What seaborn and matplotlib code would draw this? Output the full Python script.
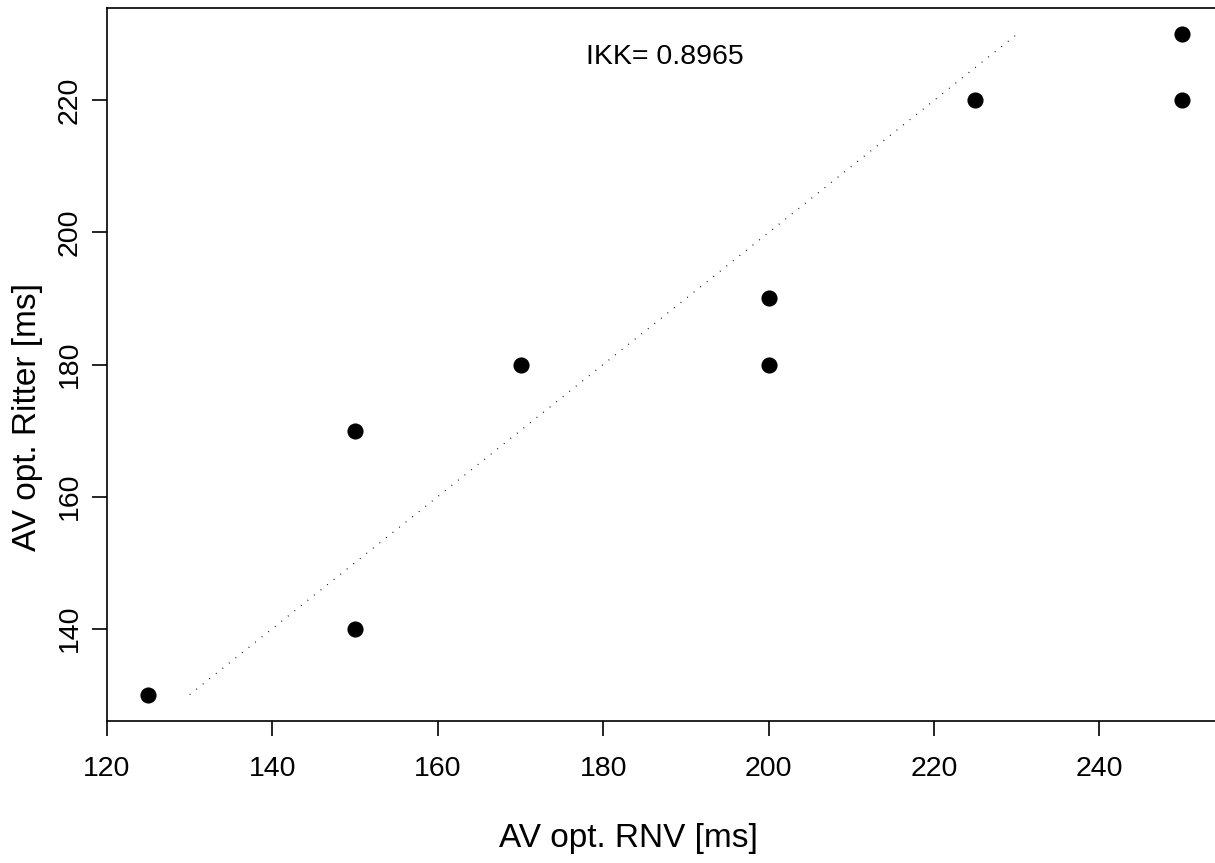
import matplotlib
matplotlib.use("Agg")
import matplotlib.pyplot as plt
import seaborn as sns
import pandas as pd

rnv = [125, 150, 150, 170, 200, 200, 225, 250, 250]
ritter = [130, 140, 170, 180, 190, 180, 220, 230, 220]
ident_line = [130, 230]
xticks = [120, 140, 160, 180, 200, 220, 240]
yticks = [140, 160, 180, 200, 220]
annot = "IKK= 0.8965"

sns.set_style("white")
plt.rcParams['font.family'] = ['Liberation Sans', 'DejaVu Sans']
plt.rcParams['text.color'] = 'black'
plt.rcParams['xtick.color'] = 'black'
plt.rcParams['ytick.color'] = 'black'
plt.rcParams['axes.labelcolor'] = 'black'

W, H = 1215, 863
fig = plt.figure(figsize=(W/100, H/100), dpi=100)
ax = fig.add_axes([107/W, (H-721)/H, 1116.5/W, 713/H])

df = pd.DataFrame({"x": rnv, "y": ritter})
sns.scatterplot(data=df, x="x", y="y", ax=ax, color="black", s=135,
                edgecolor="black", linewidth=0, zorder=3)
sns.lineplot(x=ident_line, y=ident_line, ax=ax, color="black",
             linestyle=(0, (0.7, 6)), linewidth=0.9, zorder=2)

ax.set_xlim(120, 255)
ax.set_ylim(126, 234)
ax.set_xticks(xticks)
ax.set_yticks(yticks)
ax.set_xticklabels([str(t) for t in xticks], fontsize=20.5, color="black")
ax.set_yticklabels([str(t) for t in yticks], fontsize=20.5, rotation=90, va="center",
                   color="black")
ax.tick_params(axis="both", direction="out", length=11, width=1.2, color="black",
               bottom=True, left=True, pad=14)
ax.tick_params(axis="y", pad=6.5)
for sp in ax.spines.values():
    sp.set_color("black")
    sp.set_linewidth(1.2)
ax.set_xlabel("")
ax.set_ylabel("")

ax.text(187.5, 226.6, annot, fontsize=20.5, ha="center", va="center", color="black")

fig.text(628/W, 1 - 838/H, "AV opt. RNV [ms]", fontsize=24, ha="center", va="center",
         color="black")
fig.text(28/W, 1 - 417/H, "AV opt. Ritter [ms]", fontsize=24, ha="center", va="center",
         rotation=90, color="black")

fig.savefig("out.png", dpi=100)
